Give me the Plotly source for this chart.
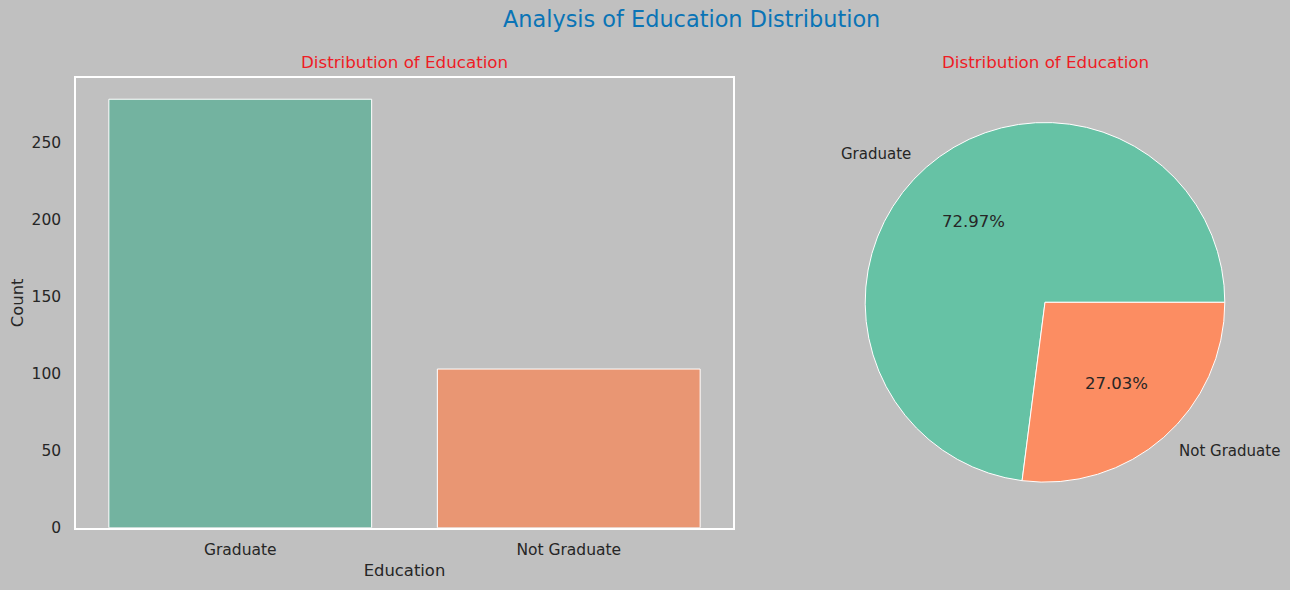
import math
import plotly.graph_objects as go

# ---- data ----
categories = ["Graduate", "Not Graduate"]
counts = [278, 103]
y_ticks = [0, 50, 100, 150, 200, 250]

bar_colors = ["#73b3a0", "#e99673"]
pie_colors = ["#66c2a5", "#fc8d62"]

W, H = 1290, 590
BG = "#c0c0c0"
TXT = "#262626"
FONT = "DejaVu Sans"


def fy(py):
    """pixel row -> paper fraction (empirical mapping)"""
    return (582.5 - py) / 584.8


def fx(px):
    return px / W


fig = go.Figure()

fig.add_trace(go.Bar(
    x=categories, y=counts, width=0.8,
    marker=dict(color=bar_colors, line=dict(color="white", width=1)),
    xaxis="x", yaxis="y", showlegend=False, hoverinfo="x+y",
))

# pie geometry (pixels)
cx_px, cy_px, r_px = 1045, 302, 181
dom_x = [fx(cx_px - r_px), fx(cx_px + r_px)]
dom_y = [fy(cy_px + r_px), fy(cy_px - r_px)]

total = sum(counts)
first_frac = counts[0] / total
# matplotlib: first wedge starts at 3 o'clock going counter-clockwise
pie_rotation = 90 - 360 * first_frac

fig.add_trace(go.Pie(
    labels=categories, values=counts, sort=False,
    direction="counterclockwise", rotation=pie_rotation,
    marker=dict(colors=pie_colors, line=dict(color="white", width=1)),
    textinfo="none", domain=dict(x=dom_x, y=dom_y), showlegend=False,
))

annotations = []
start = 0.0
for lab, v in zip(categories, counts):
    frac = v / total
    mid = (start + frac / 2) * 2 * math.pi
    start += frac
    c, s = math.cos(mid), math.sin(mid)
    # percentage at 0.6 r
    annotations.append(dict(
        x=fx(cx_px + 0.6 * r_px * c), y=fy(cy_px - 0.6 * r_px * s),
        xref="paper", yref="paper", text=f"{frac*100:.2f}%", showarrow=False,
        font=dict(size=16.5, color=TXT, family=FONT), xanchor="center", yanchor="middle"))
    # label at 1.1 r
    annotations.append(dict(
        x=fx(cx_px + 1.1 * r_px * c), y=fy(cy_px - 1.1 * r_px * s),
        xref="paper", yref="paper", text=lab, showarrow=False,
        font=dict(size=15, color=TXT, family=FONT),
        xanchor="left" if c > 0 else "right", yanchor="middle"))

# titles
annotations.append(dict(x=fx(691), y=fy(17), xref="paper", yref="paper",
                        text="Analysis of Education Distribution", showarrow=False,
                        font=dict(size=22.4, color="#0a74b6", family=FONT),
                        xanchor="center", yanchor="middle"))
for xc in [(76 + 733) / 2, cx_px]:
    annotations.append(dict(x=fx(xc), y=fy(60), xref="paper", yref="paper",
                            text="Distribution of Education", showarrow=False,
                            font=dict(size=16.7, color="#ee1c25", family=FONT),
                            xanchor="center", yanchor="middle"))

fig.update_layout(
    width=W, height=H, margin=dict(l=0, r=0, t=0, b=0),
    paper_bgcolor=BG, plot_bgcolor=BG,
    font=dict(family=FONT, color=TXT),
    annotations=annotations,
    xaxis=dict(domain=[fx(76), fx(733)], range=[-0.5, 1.5], showgrid=False,
               zeroline=False, showline=True, linecolor="white", linewidth=1.5,
               mirror=True, ticks="", tickfont=dict(size=15.5, color=TXT),
               ticklabelstandoff=7,
               title=dict(text="Education", font=dict(size=16.4, color=TXT), standoff=6),
               fixedrange=True),
    yaxis=dict(domain=[fy(529), fy(76)], range=[0, 278 * 1.05],
               tickvals=y_ticks, showgrid=False, zeroline=False, showline=True,
               linecolor="white", linewidth=1.5, mirror=True, ticks="",
               tickfont=dict(size=15.5, color=TXT), ticklabelstandoff=10,
               title=dict(text="Count", font=dict(size=16.4, color=TXT), standoff=4),
               fixedrange=True),
)

fig.write_html("out.html")
